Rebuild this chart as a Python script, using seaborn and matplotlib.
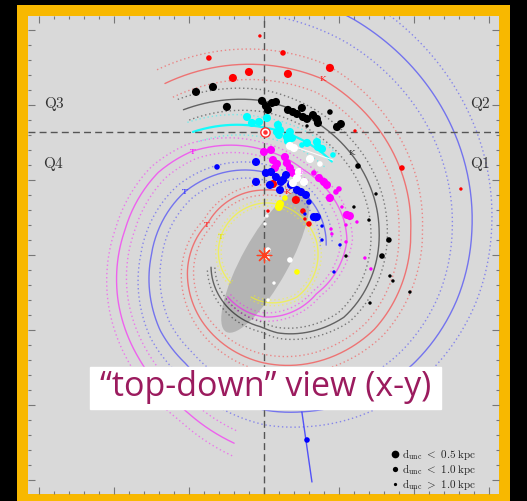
import numpy as np
import pandas as pd
import matplotlib
matplotlib.use("Agg")
import matplotlib.pyplot as plt
import seaborn as sns
from matplotlib.patches import Ellipse, Rectangle

sns.set_theme(style="white")
plt.rcParams["mathtext.fontset"] = "cm"
plt.rcParams["font.family"] = ["DejaVu Sans"]

R0 = 8.2  # Sun - GC distance (kpc)

# ---------------- spiral arms: azimuth nodes (deg) and radii (kpc) -------------
red_beta = [20, 0, -60, -100, -135, -178, -236, -280, -342, -390]
red_R = [4.45, 4.33, 4.3, 5.17, 6.0, 7.14, 8.87, 9.94, 12.37, 13.2]
black_beta = [-29, 0, 27, 78, 128, 170, 182, 257]
black_R = [11.07, 10.27, 9.33, 7.85, 6.75, 5.27, 4.8, 3.62]
cyan_beta = [-30, 0, 36]
cyan_R = [9.47, 8.5, 7.7]
mag_beta = [-171, -153, -129, -107, -80, -52, -35, 0, 25, 66, 80, 126, 180, 221]
mag_R = [12.7, 11.6, 10.8, 10.18, 9.42, 8.94, 8.42, 7.0, 6.26, 5.82, 5.62, 4.35, 4.13, 3.69]
blue_beta = [81, 33, 0, -51, -91, -126, -144, -180, -194, -234, -257, -277, -303, -339, -355]
blue_R = [4.2, 4.92, 5.53, 6.74, 7.53, 8.55, 8.92, 10.33, 10.77, 12.32, 13.21, 13.97, 15.1, 16.8, 17.5]
yel_beta = [-130, -71, 0, 77, 142, 180, 197]
yel_R = [2.89, 3.1, 3.47, 3.62, 3.56, 3.13, 2.93]

arms = [
    ("Norma-Outer", red_beta, red_R, "#ff2020", 0.080),
    ("Perseus", black_beta, black_R, "#000000", 0.071),
    ("Local", cyan_beta, cyan_R, "#00ffff", 0.078),
    ("Sgr-Car", mag_beta, mag_R, "#ff00ff", 0.067),
    ("Sct-Cen", blue_beta, blue_R, "#2020ff", 0.095),
    ("3-kpc", yel_beta, yel_R, "#ffff00", 0.06),
]

# tail segment (blue) at bottom and white spur near the Sun
tail_x = [2.53, 3.2]
tail_y = [-10.47, -15.13]
spur_x = [1.73, 4.6]
spur_y = [7.33, 6.33]

# ---------------- sources: x, y (kpc), size class ----------------
red_pts = [(-3.67, 13.13, "M"), (-2.07, 11.8, "L"), (-1.0, 12.2, "L"), (1.27, 13.47, "M"),
           (1.6, 12.07, "L"), (4.4, 12.47, "L"), (-0.27, 14.6, "S"), (6.07, 8.27, "S"),
           (9.2, 5.8, "M"), (13.13, 4.4, "S"), (0.6, 4.73, "L"), (2.13, 3.67, "L"),
           (2.6, 2.93, "M"), (2.73, 2.4, "S"), (3.0, 2.07, "M"), (0.27, 2.93, "S")]
black_pts = [(-4.53, 10.87, "L"), (-3.4, 11.2, "L"), (-2.47, 9.87, "L"), (-0.13, 10.27, "L"),
             (0.13, 9.93, "L"), (0.53, 10.13, "L"), (0.8, 10.2, "L"), (0.27, 9.67, "L"),
             (1.6, 9.67, "L"), (1.93, 9.53, "L"), (2.2, 9.4, "L"), (2.53, 9.8, "L"),
             (2.6, 9.2, "L"), (2.87, 9.07, "L"), (3.27, 9.33, "L"), (3.53, 9.07, "L"),
             (3.6, 8.8, "L"), (4.4, 9.53, "M"), (4.87, 8.53, "L"), (5.13, 8.73, "L"),
             (2.87, 8.6, "S"), (6.27, 5.93, "M"), (7.47, 4.07, "S"), (6.0, 3.2, "S"),
             (7.0, 2.33, "S"), (8.33, 1.0, "M"), (7.87, -0.07, "M"), (8.4, -1.4, "S"),
             (8.6, -1.73, "S"), (9.73, -2.47, "S"), (7.07, -3.2, "S"), (5.47, -0.07, "S")]
cyan_pts = [(-1.13, 9.2, "L"), (-0.8, 8.8, "L"), (-0.33, 8.87, "L"), (0.2, 9.13, "L"),
            (0.93, 8.67, "L"), (1.07, 8.33, "L"), (1.0, 8.0, "L"), (1.53, 7.87, "L"),
            (1.73, 8.2, "L"), (1.87, 7.8, "L"), (1.6, 7.6, "L"), (2.53, 7.33, "M"),
            (2.87, 7.47, "L"), (3.53, 7.53, "L"), (3.6, 7.2, "L"), (3.87, 7.07, "L"),
            (4.6, 6.67, "M"), (0.87, 8.2, "L")]
mag_pts = [(0.0, 6.87, "L"), (0.47, 7.0, "L"), (0.6, 6.33, "L"), (0.87, 6.07, "L"),
           (0.73, 5.8, "L"), (1.4, 6.53, "L"), (1.53, 6.13, "L"), (1.73, 5.8, "L"),
           (1.93, 5.47, "L"), (2.13, 5.13, "M"), (3.33, 5.47, "M"), (3.67, 5.13, "L"),
           (4.0, 4.87, "L"), (4.2, 4.67, "L"), (4.8, 4.2, "M"), (4.4, 3.8, "L"),
           (5.0, 4.4, "M"), (5.2, 3.2, "S"), (5.53, 2.67, "L"), (5.73, 2.6, "L"),
           (6.2, 2.2, "S"), (5.47, 2.0, "S"), (4.47, 1.73, "S"), (4.53, 1.4, "S"),
           (5.47, 0.87, "S"), (6.73, -0.2, "S"), (7.13, -0.93, "S")]
blue_pts = [(-3.13, 5.87, "M"), (-0.53, 6.2, "L"), (0.13, 5.47, "L"), (-0.53, 4.87, "L"),
            (0.47, 5.53, "L"), (0.8, 5.2, "L"), (1.13, 4.87, "L"), (1.47, 5.33, "L"),
            (1.27, 5.0, "L"), (1.8, 4.67, "L"), (1.07, 4.33, "L"), (0.4, 4.67, "L"),
            (2.2, 4.33, "L"), (2.47, 4.2, "L"), (2.8, 4.0, "L"), (3.0, 3.53, "M"),
            (3.33, 2.53, "L"), (3.53, 2.53, "L"), (2.73, 2.73, "S"), (3.87, 1.93, "S"),
            (3.87, 1.0, "S"), (5.07, 0.67, "S"), (4.67, -1.13, "S"), (2.87, -12.33, "M")]
white_pts = [(1.73, 7.27, "L"), (2.0, 7.13, "L"), (3.07, 6.4, "L"), (3.73, 6.07, "M"),
             (2.33, 5.53, "L"), (2.67, 4.87, "L"), (2.2, 5.13, "L"), (1.93, 4.8, "L"),
             (0.2, 2.6, "S"), (0.07, 2.07, "S"), (0.27, 0.33, "M"), (0.2, -0.13, "M"),
             (1.73, -0.33, "M"), (0.67, -1.87, "S"), (0.27, -3.0, "S")]
yel_pts = [(1.4, 3.8, "M"), (1.0, 3.2, "L"), (1.07, 3.4, "L"), (2.2, -1.13, "M")]

# labels of kinks (K) and tangencies (T)
mark_text = ["K", "K", "K", "K", "T", "T", "T", "T"]
mark_x = [3.93, 5.87, 2.6, 1.6, -4.73, -5.27, -3.8, -2.87]
mark_y = [11.73, 6.8, 5.53, 4.2, 6.87, 4.2, 2.0, 1.2]
mark_col = ["#ff2020", "#333333", "#ff80ff", "#ff2020", "#ff00ff", "#3030ff", "#ff2020", "#e0e000"]

quad_labels = ["Q1", "Q2", "Q3", "Q4"]
quad_x = [14.4, 14.45, -14.0, -14.0]
quad_y = [6.07, 10.07, 10.07, 6.07]

legend_labels = [r"$\mathrm{d_{unc}\ <\ 0.5\ kpc}$", r"$\mathrm{d_{unc}\ <\ 1.0\ kpc}$",
                 r"$\mathrm{d_{unc}\ >\ 1.0\ kpc}$"]
legend_size = ["L", "M", "S"]

# ---------------- figure ----------------
fig = plt.figure(figsize=(5.27, 5.01), dpi=100, facecolor="black")
frame = fig.add_axes([17 / 527, 0, (510 - 17) / 527, (501 - 5) / 501], zorder=0)
frame.set_facecolor("#f8b800")
frame.set_xticks([])
frame.set_yticks([])
for sp in frame.spines.values():
    sp.set_visible(False)

ax = fig.add_axes([28 / 527, 7 / 501, 471 / 527, 478 / 501], zorder=1)
ax.set_facecolor("#d9d9d9")
ax.set_xlim(-15.73, 15.67)
ax.set_ylim(-15.93, 15.93)

# bar
ax.add_patch(Ellipse((0.1, -0.4), 10.8, 3.1, angle=61, color="#b4b4b4", lw=0, zorder=1))


def arm_xy(beta, R, scale=1.0):
    beta = np.asarray(beta, float)
    R = np.asarray(R, float)
    o = np.argsort(beta)
    b = np.linspace(beta.min(), beta.max(), 600)
    r = np.exp(np.interp(b, beta[o], np.log(R[o]))) * scale
    return r * np.sin(np.radians(b)), r * np.cos(np.radians(b))


for name, b, r, c, w in arms:
    x, y = arm_xy(b, r)
    lw = 1.6 if name == "Local" else 1.0
    sns.lineplot(x=x, y=y, sort=False, estimator=None, color=c, lw=lw,
                 alpha=0.55 if c != "#00ffff" else 0.9, ax=ax, zorder=2)
    for s in (1 - w, 1 + w):
        x, y = arm_xy(b, r, s)
        sns.lineplot(x=x, y=y, sort=False, estimator=None, color=c, lw=1.0,
                     linestyle=(0, (1, 2)), alpha=0.45, ax=ax, zorder=2)

sns.lineplot(x=tail_x, y=tail_y, sort=False, estimator=None, color="#3030ff", lw=1.0,
             alpha=0.8, ax=ax, zorder=2)
sns.lineplot(x=spur_x, y=spur_y, sort=False, estimator=None, color="white", lw=0.8,
             alpha=0.9, ax=ax, zorder=3)

# dashed reference lines
ax.axvline(0, color="#555555", lw=1.0, dashes=(5, 3), zorder=3)
ax.axhline(R0, color="#555555", lw=1.0, dashes=(5, 3), zorder=3)

rows = []
for col, pts in [("red", red_pts), ("black", black_pts), ("cyan", cyan_pts),
                 ("magenta", mag_pts), ("blue", blue_pts), ("white", white_pts),
                 ("yellow", yel_pts)]:
    for x, y, s in pts:
        rows.append({"x": x, "y": y, "arm": col, "size": s})
df = pd.DataFrame(rows)
pal = {"red": "#ff0000", "black": "#000000", "cyan": "#00ffff", "magenta": "#ff00ff",
       "blue": "#0000ff", "white": "#ffffff", "yellow": "#ffff00"}
sizes = {"L": 34, "M": 16, "S": 6}
sns.scatterplot(data=df, x="x", y="y", hue="arm", palette=pal, size="size", sizes=sizes,
                linewidth=0, legend=False, ax=ax, zorder=4)

# Sun and Galactic centre
ax.scatter([0.1], [R0], s=45, facecolor="white", edgecolor="#ff3030", lw=1.0, zorder=5)
ax.scatter([0.1], [R0], s=5, color="#ff3030", zorder=6)
ax.scatter([0.0], [0.0], s=110, marker=(8, 2, 0), color="#ff4020", lw=0.9, zorder=5)

for t, x, y, c in zip(mark_text, mark_x, mark_y, mark_col):
    ax.text(x, y, t, color=c, fontsize=6, family="DejaVu Serif", ha="center", va="center", zorder=6)

for t, x, y in zip(quad_labels, quad_x, quad_y):
    ax.text(x, y, r"$\mathrm{%s}$" % t, fontsize=11, color="#333333", ha="center", va="center")

# legend
for i, (lab, s) in enumerate(zip(legend_labels, legend_size)):
    yy = -13.27 - i * 1.0
    ax.scatter([8.73], [yy], s=sizes[s] * 0.9, color="black", lw=0, zorder=6)
    ax.text(9.2, yy, lab, fontsize=8, color="#222222", ha="left", va="center")

# title box
ax.add_patch(Rectangle((-11.6, -10.27), 23.4, 2.8, color="white", zorder=7))
ax.text(0.13, -8.8, "\u201ctop-down\u201d view (x-y)", fontsize=24.5, color="#9b1b5e",
        family="Open Sans", ha="center", va="center", zorder=8)

ax.xaxis.set_major_locator(matplotlib.ticker.MultipleLocator(5))
ax.xaxis.set_minor_locator(matplotlib.ticker.MultipleLocator(1))
ax.yaxis.set_major_locator(matplotlib.ticker.MultipleLocator(5))
ax.yaxis.set_minor_locator(matplotlib.ticker.MultipleLocator(1))
ax.tick_params(which="both", direction="in", top=True, right=True, bottom=True, left=True,
               labelbottom=False, labelleft=False, color="#777777", width=0.8)
ax.tick_params(which="major", length=5)
ax.tick_params(which="minor", length=2.5)
for sp in ax.spines.values():
    sp.set_visible(False)
ax.set_xlabel("")
ax.set_ylabel("")

fig.savefig("out.png", dpi=100, facecolor="black")
